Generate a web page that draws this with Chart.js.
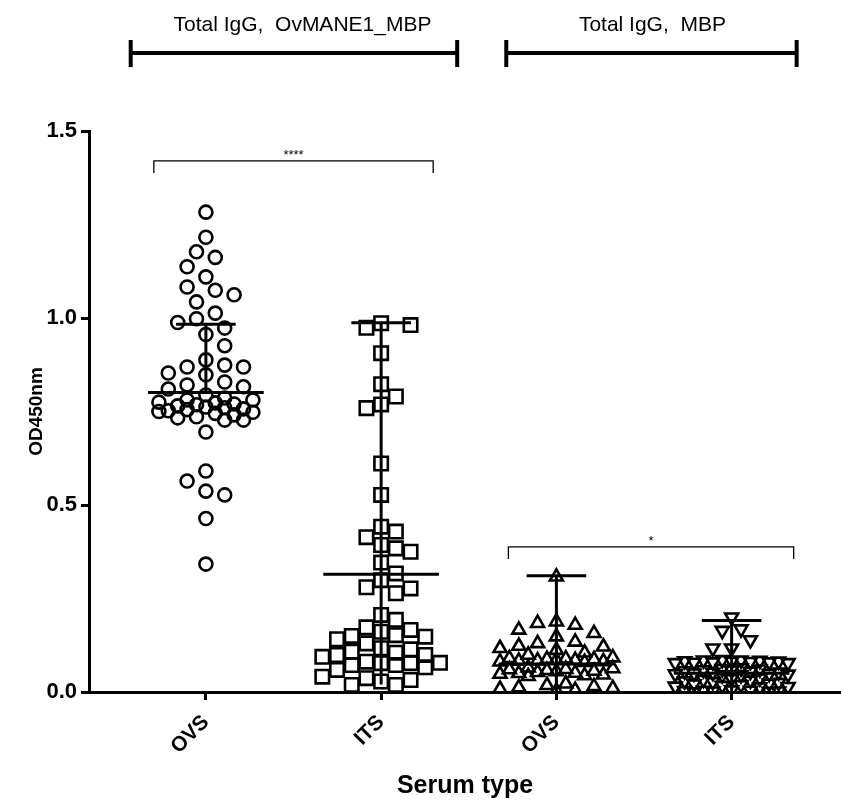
<!DOCTYPE html>
<html>
<head>
<meta charset="utf-8">
<script src="https://cdn.jsdelivr.net/npm/chart.js@4"></script>
<style>
  html, body { margin: 0; padding: 0; background: #fff; }
  #wrap { width: 841px; height: 801px; }
</style>
</head>
<body>
<div id="wrap"><canvas id="chart" width="841" height="801"></canvas></div>
<script>
/* ---------- 資料 ---------- */
const categories = ["OVS", "ITS", "OVS", "ITS"];
const groupTitles = ["Total IgG,  OvMANE1_MBP", "Total IgG,  MBP"];
const yTicks = [0.0, 0.5, 1.0, 1.5];

const ovsOvmane = [1.283, 1.216, 1.177, 1.162, 1.137, 1.110, 1.083, 1.074, 1.062, 1.043, 1.013, 0.998,
    0.988, 0.973, 0.956, 0.926, 0.888, 0.874, 0.869, 0.869, 0.853, 0.848, 0.829, 0.821, 0.816, 0.810,
    0.794, 0.786, 0.781, 0.781, 0.775, 0.773, 0.770, 0.768, 0.765, 0.762, 0.760, 0.757, 0.755, 0.752,
    0.750, 0.748, 0.745, 0.741, 0.736, 0.733, 0.727, 0.727, 0.695, 0.591, 0.564, 0.537, 0.527, 0.464, 0.342];
const itsOvmane = [0.986, 0.981, 0.974, 0.906, 0.823, 0.790, 0.769, 0.759, 0.611, 0.527, 0.442, 0.429,
    0.414, 0.393, 0.384, 0.375, 0.346, 0.317, 0.299, 0.280, 0.277, 0.264, 0.206, 0.193, 0.173, 0.166,
    0.161, 0.152, 0.150, 0.148, 0.141, 0.130, 0.117, 0.114, 0.108, 0.105, 0.099, 0.099, 0.094, 0.081,
    0.078, 0.077, 0.077, 0.072, 0.072, 0.066, 0.059, 0.041, 0.037, 0.032, 0.028, 0.019, 0.019];
const ovsMbp = [0.308, 0.188, 0.184, 0.179, 0.166, 0.157, 0.148, 0.134, 0.130, 0.123, 0.121, 0.117,
    0.112, 0.105, 0.099, 0.092, 0.090, 0.089, 0.088, 0.087, 0.086, 0.085, 0.084, 0.083, 0.082, 0.081,
    0.080, 0.065, 0.063, 0.061, 0.060, 0.058, 0.056, 0.055, 0.053, 0.051, 0.050, 0.048, 0.046, 0.044,
    0.042, 0.022, 0.018, 0.015, 0.012, 0.010, 0.008, 0.005, 0.003];
const itsMbp = [0.200, 0.168, 0.164, 0.139, 0.117, 0.117, 0.086, 0.085, 0.085, 0.084, 0.083, 0.082,
    0.082, 0.081, 0.080, 0.080, 0.079, 0.078, 0.078, 0.064, 0.062, 0.061, 0.059, 0.058, 0.056, 0.055,
    0.053, 0.052, 0.050, 0.049, 0.048, 0.047, 0.046, 0.045, 0.037, 0.035, 0.033, 0.031, 0.029, 0.027,
    0.025, 0.023, 0.021, 0.019, 0.017, 0.015, 0.014, 0.013, 0.005, 0.004, 0.004, 0.003, 0.002, 0.002,
    0.001, 0.000];

// 中線與誤差線
const centerLine = [0.801, 0.315, 0.075, 0.050];
const barTop = [0.983, 0.987, 0.311, 0.191];
const barBottom = [0.801, 0.020, 0.000, 0.000];

// 顯著性標記
const sigLabels = ["****", "*"];
const sigLevels = [1.42, 0.388];

/* ---------- 樣式 ---------- */
const groups = [ovsOvmane, itsOvmane, ovsMbp, itsMbp];
const markers = [
    { style: "circle", radius: 6.5, rotation: 0, step: 9.4, gap: 15, kmax: 5 },
    { style: "rect", radius: 9.5, rotation: 0, step: 14.7, gap: 15, kmax: 4 },
    { style: "triangle", radius: 7.5, rotation: 0, step: 9.4, gap: 14, kmax: 6 },
    { style: "triangle", radius: 7.5, rotation: 180, step: 9.4, gap: 14, kmax: 6 }
];
const sigSpans = [[0.703, 2.297], [2.726, 4.354]];
const titleSpans = [[0.571, 2.434], [2.714, 4.371]];
const titleCenters = [1.551, 3.548];

/* ---------- 蜂群排列 ---------- */
function swarm(values, yPix, m) {
    const order = values.map((v, i) => i).sort((a, b) => values[b] - values[a]);
    const placed = [];
    const offs = new Array(values.length).fill(0);
    order.forEach((i, n) => {
        const y = yPix(values[i]);
        let chosen = null, best = 0, bestScore = -1;
        for (let k = 0; k <= m.kmax && chosen === null; k++) {
            const cands = k === 0 ? [0] : (n % 2 ? [k, -k] : [-k, k]);
            for (const s of cands) {
                const dx = s * m.step;
                let md = Infinity;
                placed.forEach(p => { md = Math.min(md, Math.hypot(p.dx - dx, p.y - y)); });
                if (md >= m.gap) { chosen = dx; break; }
                if (md > bestScore + 0.5) { bestScore = md; best = dx; }
            }
        }
        if (chosen === null) chosen = best;
        placed.push({ dx: chosen, y });
        offs[i] = chosen;
    });
    return offs;
}

/* ---------- 附加繪圖 ---------- */
const extras = {
    id: "extras",
    afterDatasetsDraw(chart) {
        const { ctx, scales: { x, y } } = chart;
        ctx.save();
        ctx.strokeStyle = "#000";
        ctx.fillStyle = "#000";
        ctx.lineCap = "butt";

        // 中線、誤差線
        ctx.lineWidth = 3;
        for (let g = 0; g < 4; g++) {
            const cx = x.getPixelForValue(g + 1);
            const unit = x.getPixelForValue(2) - x.getPixelForValue(1);
            const yc = y.getPixelForValue(centerLine[g]);
            const yt = y.getPixelForValue(barTop[g]);
            const yb = y.getPixelForValue(barBottom[g]);
            ctx.beginPath();
            ctx.moveTo(cx - unit * 0.33, yc); ctx.lineTo(cx + unit * 0.33, yc);
            ctx.moveTo(cx - unit * 0.17, yt); ctx.lineTo(cx + unit * 0.17, yt);
            ctx.moveTo(cx, yt); ctx.lineTo(cx, yb);
            ctx.stroke();
        }

        // 顯著性括號
        ctx.lineWidth = 1.3;
        ctx.font = "13px 'Liberation Sans', Arial, sans-serif";
        ctx.textAlign = "center";
        ctx.textBaseline = "bottom";
        sigLabels.forEach((lab, i) => {
            const x1 = x.getPixelForValue(sigSpans[i][0]);
            const x2 = x.getPixelForValue(sigSpans[i][1]);
            const yy = y.getPixelForValue(sigLevels[i]);
            ctx.beginPath();
            ctx.moveTo(x1, yy + 12); ctx.lineTo(x1, yy); ctx.lineTo(x2, yy); ctx.lineTo(x2, yy + 12);
            ctx.stroke();
            ctx.fillText(lab, (x1 + x2) / 2, yy + 1);
        });

        // 上方分組標題
        ctx.lineWidth = 4;
        ctx.font = "21px 'Liberation Sans', Arial, sans-serif";
        ctx.textBaseline = "middle";
        groupTitles.forEach((t, i) => {
            const x1 = x.getPixelForValue(titleSpans[i][0]);
            const x2 = x.getPixelForValue(titleSpans[i][1]);
            ctx.beginPath();
            ctx.moveTo(x1, 53); ctx.lineTo(x2, 53);
            ctx.moveTo(x1, 40); ctx.lineTo(x1, 67);
            ctx.moveTo(x2, 40); ctx.lineTo(x2, 67);
            ctx.stroke();
            ctx.fillText(t, x.getPixelForValue(titleCenters[i]), 25);
        });
        ctx.restore();
    }
};

/* ---------- 圖表 ---------- */
const datasets = groups.map((vals, g) => ({
    label: categories[g],
    data: vals.map(v => ({ x: g + 1, y: v })),
    pointStyle: markers[g].style,
    pointRadius: markers[g].radius,
    rotation: markers[g].rotation,
    borderColor: "#000",
    backgroundColor: "rgba(0,0,0,0)",
    borderWidth: 2.6
}));

const chart = new Chart(document.getElementById("chart"), {
    type: "scatter",
    data: { datasets },
    plugins: [extras],
    options: {
        responsive: false,
        animation: false,
        events: [],
        layout: { autoPadding: false, padding: { top: 131, right: 0, bottom: 0, left: 0 } },
        plugins: { legend: { display: false }, tooltip: { enabled: false } },
        scales: {
            x: {
                type: "linear",
                min: 0.333,
                max: 4.624,
                afterBuildTicks: s => { s.ticks = categories.map((c, i) => ({ value: i + 1 })); },
                afterFit: s => { s.height = 109; s.paddingLeft = 0; s.paddingRight = 0; },
                ticks: {
                    callback: (v) => categories[Math.round(v) - 1],
                    minRotation: 45,
                    maxRotation: 45,
                    autoSkip: false,
                    padding: 10,
                    color: "#000",
                    font: { family: "'Liberation Sans', Arial, sans-serif", size: 21, weight: "bold" }
                },
                grid: { drawOnChartArea: false, drawTicks: true, tickLength: 8, tickWidth: 3, color: "#000" },
                border: { display: true, width: 3, color: "#000" },
                title: {
                    display: true,
                    text: "Serum type",
                    color: "#000",
                    padding: { top: 0, bottom: 0 },
                    font: { family: "'Liberation Sans', Arial, sans-serif", size: 25, weight: "bold" }
                }
            },
            y: {
                min: 0,
                max: 1.5,
                afterBuildTicks: s => { s.ticks = yTicks.map(v => ({ value: v })); },
                afterFit: s => { s.width = 89; },
                ticks: {
                    callback: v => v.toFixed(1),
                    padding: 4,
                    color: "#000",
                    font: { family: "'Liberation Sans', Arial, sans-serif", size: 22, weight: "bold" }
                },
                grid: { drawOnChartArea: false, drawTicks: true, tickLength: 8, tickWidth: 3, color: "#000" },
                border: { display: true, width: 3, color: "#000" },
                title: {
                    display: true,
                    text: "OD450nm",
                    color: "#000",
                    padding: { top: 25, bottom: 0 },
                    font: { family: "'Liberation Sans', Arial, sans-serif", size: 19, weight: "bold" }
                }
            }
        }
    }
});

/* ---------- 依刻度計算點的水平位置 ---------- */
const unitPx = chart.scales.x.getPixelForValue(2) - chart.scales.x.getPixelForValue(1);
groups.forEach((vals, g) => {
    const offs = swarm(vals, v => chart.scales.y.getPixelForValue(v), markers[g]);
    chart.data.datasets[g].data = vals.map((v, i) => ({ x: g + 1 + offs[i] / unitPx, y: v }));
});
chart.update("none");
</script>
</body>
</html>
